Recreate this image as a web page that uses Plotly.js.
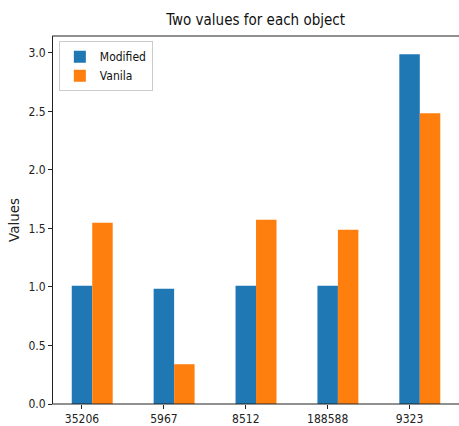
<!DOCTYPE html>
<html>
<head>
<meta charset="utf-8">
<script src="https://cdn.plot.ly/plotly-3.0.1.min.js"></script>
<style>html,body{margin:0;padding:0;background:#fff;overflow:hidden;}#chart{width:459px;height:426px;}</style>
</head>
<body>
<div id="chart"></div>
<script>
const categories = ["35206", "5967", "8512", "188588", "9323"];
const modified = [1.01, 0.985, 1.01, 1.01, 2.99];
const vanila = [1.55, 0.34, 1.575, 1.49, 2.485];
const seriesNames = ["Modified", "Vanila"];
const yTicks = [0, 0.5, 1, 1.5, 2, 2.5, 3];

const FONT = "DejaVu Sans Condensed, DejaVu Sans, sans-serif";
const idx = categories.map((c, i) => i);

const traces = [
  {type: "bar", name: seriesNames[0], x: idx, y: modified, width: 0.25, offset: -0.125,
   marker: {color: "#1f77b4"}, hoverinfo: "y"},
  {type: "bar", name: seriesNames[1], x: idx, y: vanila, width: 0.25, offset: 0.125,
   marker: {color: "#ff7f0e"}, hoverinfo: "y"}
];

const layout = {
  width: 459, height: 426,
  margin: {l: 53, r: 3, t: 36, b: 22, pad: 0},
  paper_bgcolor: "#fff", plot_bgcolor: "#fff",
  font: {family: FONT, size: 11, color: "#222"},
  barmode: "overlay",
  showlegend: true,
  title: {text: "Two values for each object", font: {family: FONT, size: 15, color: "#111"},
          x: 0.557, xanchor: "center", y: 0.953, yanchor: "middle"},
  xaxis: {range: [-0.354, 4.567], tickvals: idx, ticktext: categories, showgrid: false, zeroline: false,
          showline: false, mirror: false,
          ticks: "outside", ticklen: 4, tickcolor: "#222", tickfont: {family: FONT, size: 12}},
  yaxis: {range: [0, 3.145], tickvals: yTicks, tickformat: ".1f", showgrid: false, zeroline: false,
          showline: true, mirror: false, linecolor: "#222", linewidth: 1,
          ticks: "outside", ticklen: 4, tickcolor: "#222", tickfont: {family: FONT, size: 12},
          title: {text: "Values", font: {family: "DejaVu Sans, sans-serif", size: 13.5, color: "#222"}, standoff: 5}},
  shapes: [
    {type: "line", xref: "paper", yref: "paper", x0: -0.002, x1: 1.02, y0: 1, y1: 1,
     line: {color: "#222", width: 1}},
    {type: "line", xref: "paper", yref: "paper", x0: -0.002, x1: 1.02, y0: 0, y1: 0,
     line: {color: "#222", width: 1}}
  ],
  legend: {x: 0.0145, y: 0.986, xanchor: "left", yanchor: "top", bgcolor: "rgba(255,255,255,0.8)",
           bordercolor: "#ccc", borderwidth: 1, font: {family: FONT, size: 12, color: "#111"},
           itemwidth: 30, tracegroupgap: 2}
};

Plotly.newPlot("chart", traces, layout, {displayModeBar: false, staticPlot: true});
</script>
</body>
</html>
